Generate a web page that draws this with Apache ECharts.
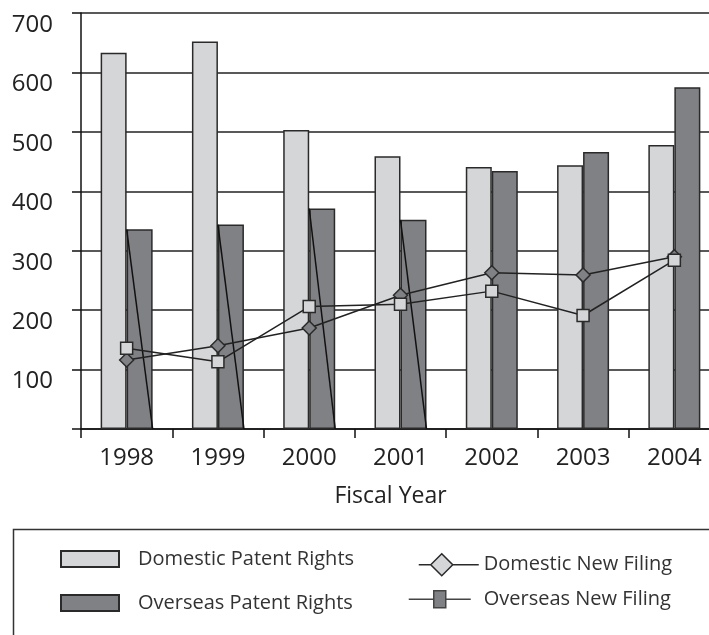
<!DOCTYPE html>
<html><head><meta charset="utf-8">
<script src="https://cdn.jsdelivr.net/npm/echarts@6/dist/echarts.min.js"></script>
<style>html,body{margin:0;padding:0;background:#fff}#c{width:709px;height:635px}</style>
</head><body><div id="c"></div>
<script>
const years = ['1998', '1999', '2000', '2001', '2002', '2003', '2004'];
const domesticPatentRights = [633, 652, 503, 459, 441, 444, 478];
const overseasPatentRights = [336, 344, 371, 352, 434, 466, 575];
const domesticNewFiling = [116, 140, 170, 225, 263, 259, 290];
const overseasNewFiling = [136, 113, 206, 210, 232, 191, 284];
const slashedYears = ['1998', '1999', '2000', '2001'];
const yMin = 0, yMax = 700, yStep = 100;

const FONT = 'Open Sans';
const LIGHT = '#d5d6d8';
const DARK = '#808185';
const EDGE = '#2a2a2a';
const BAR_W = 26;

const slashData = slashedYears.map(y => [years.indexOf(y), overseasPatentRights[years.indexOf(y)]]);

const chart = echarts.init(document.getElementById('c'), null, {renderer: 'canvas'});
chart.setOption({
  animation: false,
  backgroundColor: '#fff',
  textStyle: {fontFamily: FONT},
  grid: {left: 81, top: 13, width: 639, height: 416, containLabel: false, outerBoundsMode: 'none'},
  xAxis: {
    type: 'category',
    data: years,
    axisLine: {show: true, lineStyle: {color: '#111', width: 1.5}},
    axisTick: {show: true, length: 9, lineStyle: {color: '#111', width: 1.5}},
    axisLabel: {fontSize: 24, color: '#222', margin: 17, fontFamily: FONT},
    splitLine: {show: false},
    name: 'Fiscal Year',
    nameLocation: 'middle',
    nameGap: 56,
    nameTextStyle: {fontSize: 23, color: '#222', fontFamily: FONT, padding: [0, 20, 0, 0]}
  },
  yAxis: {
    type: 'value',
    min: yMin, max: yMax, interval: yStep,
    axisLine: {show: true, lineStyle: {color: '#111', width: 1.5}},
    axisTick: {show: true, length: 9, lineStyle: {color: '#111', width: 1.5}},
    axisLabel: {
      fontSize: 24, color: '#222', margin: 28, fontFamily: FONT,
      verticalAlign: 'top', lineHeight: 24,
      formatter: v => (v === 0 ? '' : String(v))
    },
    splitLine: {show: true, lineStyle: {color: '#222', width: 1.5}}
  },
  graphic: [{
    type: 'rect', left: 11, top: 527, z: 0,
    shape: {width: 720, height: 140},
    style: {fill: 'none', stroke: '#333', lineWidth: 1.5}
  }],
  legend: [{
    orient: 'vertical', left: 60, top: 549, padding: 0,
    itemWidth: 58, itemHeight: 16, itemGap: 24,
    selectedMode: false,
    textStyle: {fontSize: 20, color: '#333', fontFamily: FONT, padding: [0, 0, 0, 14]},
    data: [
      {name: 'Domestic Patent Rights', icon: 'rect', itemStyle: {color: LIGHT, borderColor: EDGE, borderWidth: 2}},
      {name: 'Overseas Patent Rights', icon: 'rect', itemStyle: {color: DARK, borderColor: EDGE, borderWidth: 2}}
    ]
  }, {
    orient: 'vertical', left: 408, top: 553, padding: 0,
    itemWidth: 70, itemHeight: 22, itemGap: 11,
    selectedMode: false,
    textStyle: {fontSize: 20, color: '#333', fontFamily: FONT},
    data: [
      {name: 'Domestic New Filing',
       icon: 'path://M0,11M10,11L22,11M44,11L70,11M22,11L33,0L44,11L33,22Z',
       itemStyle: {color: LIGHT, borderColor: EDGE, borderWidth: 1.5}},
      {name: 'Overseas New Filing',
       icon: 'path://M0,0M70,22M0,11L25,11M37,11L62,11M25,2.5L37,2.5L37,19.5L25,19.5Z',
       itemStyle: {color: DARK, borderColor: '#444', borderWidth: 1.5}}
    ]
  }],
  series: [{
    name: 'Domestic Patent Rights', type: 'bar', data: domesticPatentRights,
    barWidth: BAR_W, barGap: '0%', z: 2,
    itemStyle: {color: LIGHT, borderColor: EDGE, borderWidth: 1.5}
  }, {
    name: 'Overseas Patent Rights', type: 'bar', data: overseasPatentRights,
    barWidth: BAR_W, barGap: '0%', z: 2,
    itemStyle: {color: DARK, borderColor: EDGE, borderWidth: 1.5}
  }, {
    name: 'slash', type: 'custom', data: slashData, z: 3,
    encode: {x: 0, y: 1},
    renderItem: (params, api) => {
      const top = api.coord([api.value(0), api.value(1)]);
      const base = api.coord([api.value(0), 0]);
      return {type: 'line', shape: {x1: top[0], y1: top[1], x2: top[0] + BAR_W, y2: base[1]},
              style: {stroke: '#111', lineWidth: 1.5}};
    }
  }, {
    name: 'Domestic New Filing', type: 'line', data: domesticNewFiling, z: 4,
    symbol: 'diamond', symbolSize: 14, showAllSymbol: true,
    lineStyle: {color: '#222', width: 1.5},
    itemStyle: {color: DARK, borderColor: EDGE, borderWidth: 1.5}
  }, {
    name: 'Overseas New Filing', type: 'line', data: overseasNewFiling, z: 4,
    symbol: 'rect', symbolSize: 12, showAllSymbol: true,
    lineStyle: {color: '#222', width: 1.5},
    itemStyle: {color: LIGHT, borderColor: EDGE, borderWidth: 1.5}
  }]
});
</script></body></html>
